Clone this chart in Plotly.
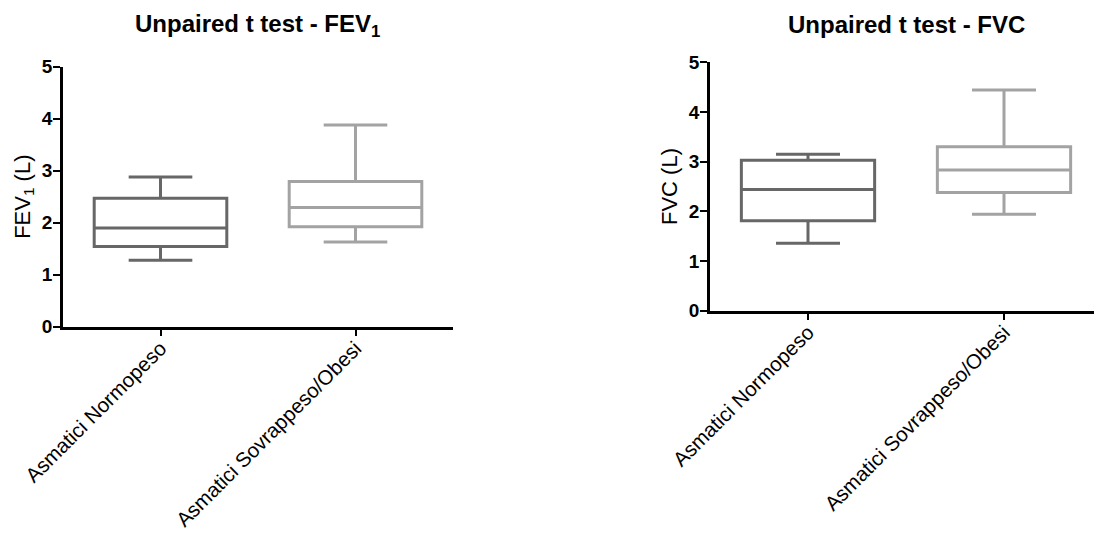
import plotly.graph_objects as go

categories = ["Asmatici Normopeso", "Asmatici Sovrappeso/Obesi"]

# FEV1 (L)
fev_low = [1.28, 1.63]
fev_q1 = [1.54, 1.92]
fev_med = [1.90, 2.29]
fev_q3 = [2.47, 2.79]
fev_high = [2.88, 3.88]

# FVC (L)
fvc_low = [1.36, 1.94]
fvc_q1 = [1.81, 2.38]
fvc_med = [2.44, 2.83]
fvc_q3 = [3.03, 3.30]
fvc_high = [3.15, 4.44]

y_ticks = [0, 1, 2, 3, 4, 5]
colors = ["#676767", "#a3a3a3"]

W, H = 1102, 534
OFF = 8  # page body margin offset
fig = go.Figure()

panels = [
    ("x", "y", fev_low, fev_q1, fev_med, fev_q3, fev_high),
    ("x2", "y2", fvc_low, fvc_q1, fvc_med, fvc_q3, fvc_high),
]
for xa, ya, lo, q1, md, q3, hi in panels:
    for i, cat in enumerate(categories):
        fig.add_trace(go.Box(
            x=[cat], q1=[q1[i]], median=[md[i]], q3=[q3[i]],
            lowerfence=[lo[i]], upperfence=[hi[i]],
            xaxis=xa, yaxis=ya,
            fillcolor="white",
            line=dict(color=colors[i], width=3),
            whiskerwidth=0.48, width=0.68,
            boxpoints=False, showlegend=False, hoverinfo="skip",
        ))

font_family = "Liberation Sans, Arial, sans-serif"
axis_common = dict(
    showgrid=False, zeroline=False, showline=True, automargin=False,
    linecolor="black", linewidth=2.5,
    ticks="outside", tickcolor="black", tickwidth=2, ticklen=7,
)
xcommon = dict(axis_common, type="category", range=[-0.5, 1.5],
               categoryorder="array", categoryarray=categories,
               tickangle=-45, ticklabelstandoff=-8,
               tickfont=dict(family=font_family, size=20.5, color="black"))
ycommon = dict(axis_common, range=[0, 5], tickvals=y_ticks,
               ticklabelstandoff=-3,
               tickfont=dict(family=font_family, size=19, color="black",
                             weight="bold"))


def px_x(p):
    return (p - OFF) / W


def px_y(p):
    return 1 - (p - OFF) / H


fig.update_layout(
    width=W, height=H,
    margin=dict(l=0, r=0, t=0, b=0),
    paper_bgcolor="white", plot_bgcolor="white",
    boxmode="overlay",
    xaxis=dict(xcommon, domain=[px_x(63), px_x(453)], anchor="y"),
    yaxis=dict(ycommon, domain=[px_y(326.7), px_y(66.7)], anchor="x",
               title=dict(text="FEV<sub>1</sub> (L)", standoff=6,
                          font=dict(family=font_family, size=22, color="black"))),
    xaxis2=dict(xcommon, domain=[px_x(710), px_x(1102)], anchor="y2"),
    yaxis2=dict(ycommon, domain=[px_y(310.7), px_y(62.3)], anchor="x2",
                title=dict(text="FVC (L)", standoff=6,
                           font=dict(family=font_family, size=22, color="black"))),
    annotations=[
        dict(text="<b>Unpaired t test - FEV<sub>1</sub></b>", x=px_x(257), y=px_y(26),
             xref="paper", yref="paper", showarrow=False,
             xanchor="center", yanchor="middle",
             font=dict(family=font_family, size=24, color="black")),
        dict(text="<b>Unpaired t test - FVC</b>", x=px_x(906), y=px_y(25),
             xref="paper", yref="paper", showarrow=False,
             xanchor="center", yanchor="middle",
             font=dict(family=font_family, size=24, color="black")),
    ],
)

fig.write_html("out.html")
